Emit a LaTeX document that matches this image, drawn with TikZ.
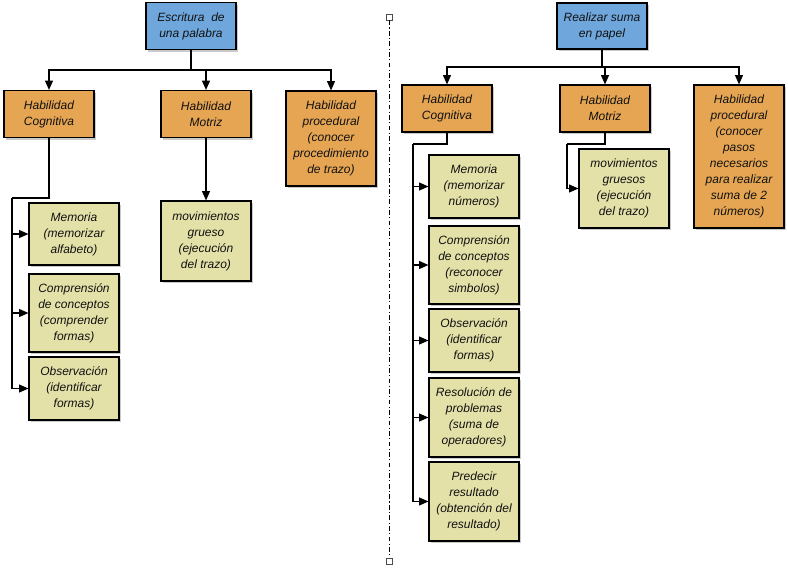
\documentclass[tikz,border=0pt]{standalone}
\usepackage{fontspec}
\setmainfont{Liberation Sans}
\usetikzlibrary{arrows.meta,shadows}
\definecolor{cblue}{HTML}{6FA7DC}
\definecolor{corange}{HTML}{E5A553}
\definecolor{cyellow}{HTML}{E3E1A8}
\definecolor{ctext}{HTML}{111111}
\tikzset{
  box/.style={draw=black, line width=0.9pt, minimum width=67.5pt, align=center,
    inner sep=1pt, font=\fontsize{9pt}{12pt}\selectfont\itshape, text=ctext,
    drop shadow={shadow xshift=1.5pt, shadow yshift=-1.5pt, opacity=0.35, fill=black!60}},
  rootbox/.style={box, fill=cblue},
  habbox/.style={box, fill=corange},
  subbox/.style={box, fill=cyellow},
  conn/.style={line width=0.8pt, draw=black},
  arr/.style={conn, -{Triangle[length=7pt,width=6pt]}},
  sep/.style={line width=0.6pt, draw=black, dash pattern=on 3.5pt off 1.8pt on 0.8pt off 1.8pt},
  endsq/.style={draw=black!70, fill=white, line width=0.6pt, minimum size=4.5pt, inner sep=0pt}
}
\begin{document}
\begin{tikzpicture}[x=0.75pt,y=-0.75pt]
\useasboundingbox (0,0) rectangle (788,569);
% ---------- left tree ----------
\node[rootbox, minimum height=35.25pt] (root1) at (191,26) {Escritura\ \ de\\una palabra};
\node[habbox, minimum height=35.25pt] (hc1) at (49,114) {Habilidad\\Cognitiva};
\node[habbox, minimum height=35.25pt] (hm1) at (206,114) {Habilidad\\Motriz};
\node[habbox, minimum height=71.25pt] (hp1) at (331,138.5) {Habilidad\\procedural\\(conocer\\procedimiento\\de trazo)};
\node[subbox, minimum height=46.5pt] (m1) at (74,234) {Memoria\\(memorizar\\alfabeto)};
\node[subbox, minimum height=58.5pt] (c1) at (74,313) {Comprensión\\de conceptos\\(comprender\\formas)};
\node[subbox, minimum height=47.25pt] (o1) at (74,388.5) {Observación\\(identificar\\formas)};
\node[subbox, minimum height=60pt] (mg1) at (206,241) {movimientos\\grueso\\(ejecución\\del trazo)};
\coordinate (j1) at (191,70);
\coordinate (k1) at (12,198);
\draw[conn] (root1.south) -- (j1);
\draw[arr] (j1) -| (hc1.north);
\draw[arr] (j1) -| (hm1.north);
\draw[arr] (j1) -| (hp1.north);
\draw[conn] (hc1.south) |- (k1);
\draw[arr] (k1) |- (m1.west);
\draw[arr] (k1) |- (c1.west);
\draw[arr] (k1) |- (o1.west);
\draw[arr] (hm1.south) -- (mg1.north);
% ---------- separator ----------
\node[endsq] (st) at (389,17) {};
\node[endsq] (sb) at (389,561) {};
\draw[sep] (st.south) -- (sb.north);
% ---------- right tree ----------
\node[rootbox, minimum height=34.5pt] (root2) at (602,26) {Realizar suma\\en papel};
\node[habbox, minimum height=35.25pt] (hc2) at (447,108.5) {Habilidad\\Cognitiva};
\node[habbox, minimum height=35.25pt] (hm2) at (605,108.5) {Habilidad\\Motriz};
\node[habbox, minimum height=107.25pt] (hp2) at (739,156.5) {Habilidad\\procedural\\(conocer\\pasos\\necesarios\\para realizar\\suma de 2\\números)};
\node[subbox, minimum height=47.25pt] (m2) at (474,186.5) {Memoria\\(memorizar\\números)};
\node[subbox, minimum height=58.5pt] (c2) at (474,265) {Comprensión\\de conceptos\\(reconocer\\simbolos)};
\node[subbox, minimum height=47.25pt] (o2) at (474,340.5) {Observación\\(identificar\\formas)};
\node[subbox, minimum height=59.25pt] (r2) at (474,417.5) {Resolución de\\problemas\\(suma de\\operadores)};
\node[subbox, minimum height=59.25pt] (p2) at (474,501.5) {Predecir\\resultado\\(obtención del\\resultado)};
\node[subbox, minimum height=59.25pt] (mg2) at (624,188.5) {movimientos\\gruesos\\(ejecución\\del trazo)};
\coordinate (j2) at (602,67);
\coordinate (k2) at (413,144);
\coordinate (k3) at (567,144);
\draw[conn] (root2.south) -- (j2);
\draw[arr] (j2) -| (hc2.north);
\draw[arr] (j2) -| (hm2.north);
\draw[arr] (j2) -| (hp2.north);
\draw[conn] (hc2.south) |- (k2);
\draw[arr] (k2) |- (m2.west);
\draw[arr] (k2) |- (c2.west);
\draw[arr] (k2) |- (o2.west);
\draw[arr] (k2) |- (r2.west);
\draw[arr] (k2) |- (p2.west);
\draw[conn] (hm2.south) |- (k3);
\draw[arr] (k3) |- (mg2.west);
\end{tikzpicture}
\end{document}
